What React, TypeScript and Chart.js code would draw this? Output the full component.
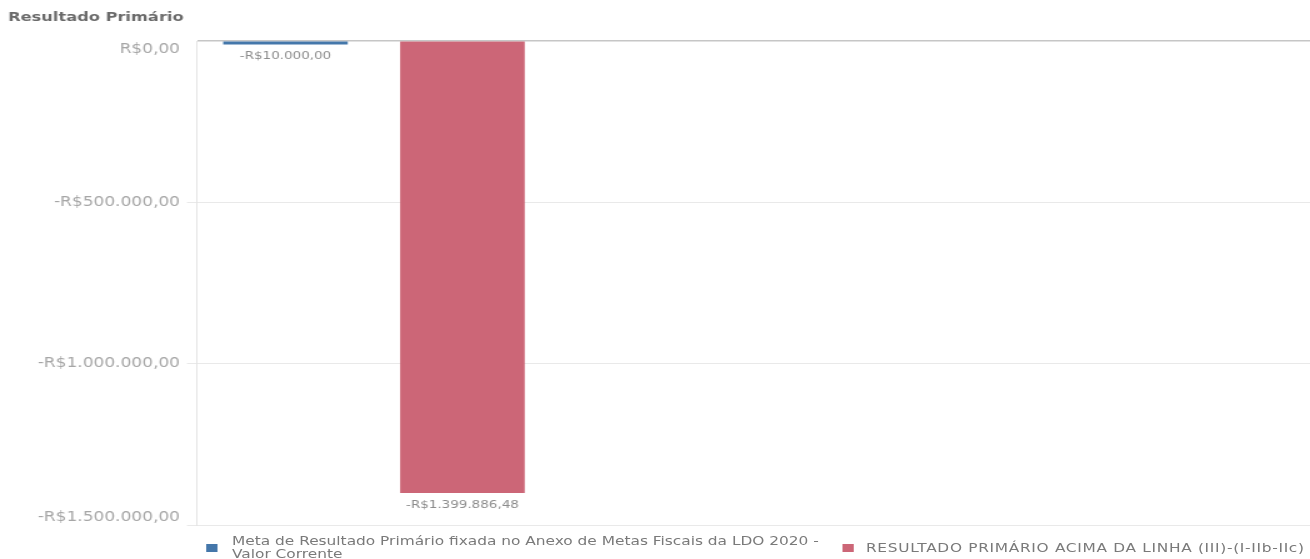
import React, { useEffect, useRef } from 'react';
import { Chart, registerables } from 'chart.js';

Chart.register(...registerables);

// ---- data ----
const titleText = 'Resultado Primário';
const categories = [
  'Meta de Resultado Primário fixada no Anexo de Metas Fiscais da LDO 2020 - Valor Corrente',
  'RESULTADO PRIMÁRIO ACIMA DA LINHA (III)-(I-IIb-IIc)',
];
const legendLines = [
  ['Meta de Resultado Primário fixada no Anexo de Metas Fiscais da LDO 2020 -', 'Valor Corrente'],
  ['RESULTADO PRIMÁRIO ACIMA DA LINHA (III)-(I-IIb-IIc)'],
];
const values = [-10000, -1399886.48];
const colors = ['#4477aa', '#cc6677'];
const yMin = -1500000;
const yMax = 0;
const yStep = 500000;

// ---- layout (styling) ----
const S = 1.25; // horizontal stretch of the picture
const W = 1310 / S;
const H = 559;
const FONT = '"DejaVu Sans", sans-serif';

function brl(v: number): string {
  const neg = v < 0;
  const [i, d] = Math.abs(v).toFixed(2).split('.');
  const withSep = i.replace(/\B(?=(\d{3})+(?!\d))/g, '.');
  return (neg ? '-' : '') + 'R$' + withSep + ',' + d;
}

const edgeLabels = {
  id: 'edgeLabels',
  beforeDraw(chart: any) {
    const sc = chart.scales.y;
    if (!sc) return;
    const items = sc.getLabelItems();
    if (!items || (items as any).__shifted) return;
    (items as any).__shifted = true;
    items.forEach((it: any, idx: number) => {
      const t = sc.ticks[idx];
      if (!t) return;
      if (t.value === yMax) it.options.translation[1] += 8;
      if (t.value === yMin) it.options.translation[1] -= 8;
    });
  },
};

const barLabels = {
  id: 'barLabels',
  afterDatasetsDraw(chart: any) {
    const ctx = chart.ctx;
    chart.data.datasets.forEach((ds: any, di: number) => {
      const meta = chart.getDatasetMeta(di);
      meta.data.forEach((el: any) => {
        ctx.save();
        ctx.font = `10.8px ${FONT}`;
        ctx.fillStyle = '#8c8c8c';
        ctx.textAlign = 'center';
        ctx.textBaseline = 'middle';
        ctx.fillText(brl(values[di]), el.x, Math.max(el.y, el.base) + 12);
        ctx.restore();
      });
    });
  },
};

export default function App() {
  const ref = useRef<HTMLCanvasElement | null>(null);

  useEffect(() => {
    if (!ref.current) return;
    const chart = new Chart(ref.current, {
      type: 'bar',
      data: {
        datasets: categories.map((c, i) => ({
          label: c,
          data: [{ x: i + 0.5, y: values[i] }],
          backgroundColor: colors[i],
          barThickness: 99,
        })),
      },
      options: {
        animation: false,
        responsive: false,
        devicePixelRatio: 1,
        layout: { padding: { left: 6.4, right: 0, top: 0, bottom: 34 } },
        plugins: {
          legend: { display: false },
          tooltip: { enabled: false },
          title: {
            display: true,
            text: titleText,
            align: 'start',
            color: '#6a6a6a',
            font: { family: FONT, size: 13, weight: 'bold' },
            padding: { top: 10, bottom: 15.4 },
          },
        },
        scales: {
          x: {
            type: 'linear',
            display: false,
            stacked: true,
            offset: false,
            min: 0,
            max: 6.29,
          },
          y: {
            min: yMin,
            max: yMax,
            afterFit: (scale: any) => {
              scale.width = 151.2;
            },
            ticks: {
              stepSize: yStep,
              padding: 5.6,
              color: '#a6a6a6',
              font: { family: FONT, size: 13.6 },
              callback: (v: any) => brl(Number(v)),
            },
            grid: {
              color: (c: any) => (c.tick && c.tick.value === 0 ? '#c6c6c6' : '#e9e9e9'),
              lineWidth: (c: any) => (c.tick && c.tick.value === 0 ? 1.5 : 1),
              tickColor: (c: any) => (c.tick && c.tick.value === 0 ? 'rgba(0,0,0,0)' : '#e9e9e9'),
              tickLength: 8,
            },
            border: { display: true, color: '#e4e4e4' },
          },
        },
      },
      plugins: [edgeLabels, barLabels],
    } as any);
    return () => chart.destroy();
  }, []);

  const legendText: React.CSSProperties = {
    position: 'absolute',
    fontFamily: FONT,
    fontSize: '12.3px',
    lineHeight: '13px',
    color: '#7a7a7a',
    whiteSpace: 'nowrap',
  };

  return (
    <div
      style={{
        position: 'fixed',
        left: 0,
        top: 0,
        width: W,
        height: H,
        overflow: 'hidden',
        transform: `scaleX(${S})`,
        transformOrigin: '0 0',
        background: '#ffffff',
      }}
    >
      <canvas ref={ref} width={W} height={H} style={{ display: 'block' }} />
      <div style={{ position: 'absolute', left: 164.8, top: 543.5, width: 9, height: 8, background: colors[0] }} />
      <div style={{ ...legendText, left: 185.6, top: 535 }}>
        {legendLines[0].map((l, i) => (
          <div key={i}>{l}</div>
        ))}
      </div>
      <div style={{ position: 'absolute', left: 674.4, top: 543.5, width: 9, height: 8, background: colors[1] }} />
      <div style={{ ...legendText, left: 692.8, top: 541.5, letterSpacing: '0.55px' }}>
        {legendLines[1].map((l, i) => (
          <div key={i}>{l}</div>
        ))}
      </div>
    </div>
  );
}
